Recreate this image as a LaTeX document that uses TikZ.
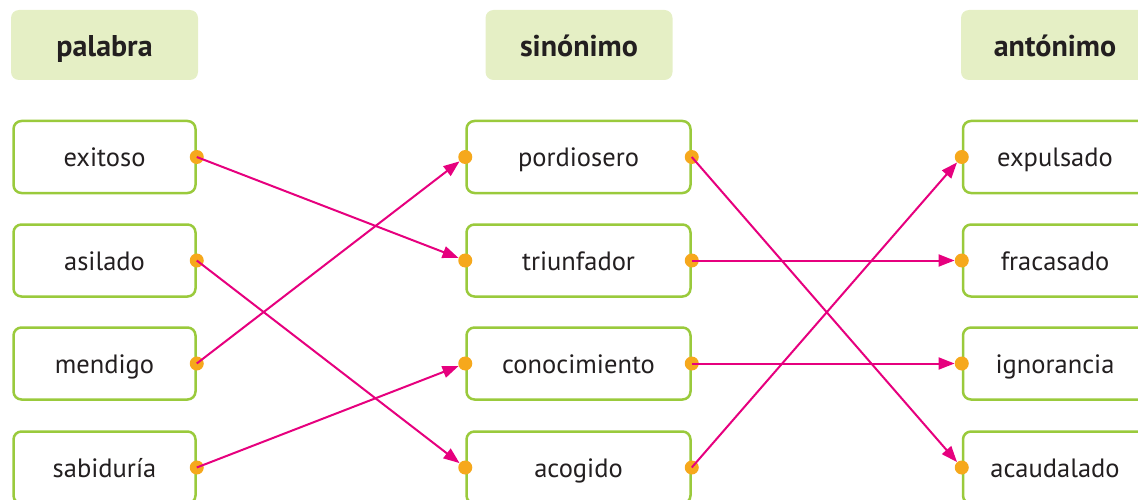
\documentclass[tikz,border=0pt]{standalone}
\usepackage{fontspec}
\setmainfont{PT Sans}
\usetikzlibrary{arrows.meta}
\definecolor{hdrfill}{HTML}{E5EFC5}
\definecolor{boxgreen}{HTML}{9ACA3C}
\definecolor{dotorange}{HTML}{F6A81C}
\definecolor{magen}{HTML}{E6007E}
\definecolor{txt}{HTML}{231F20}
\begin{document}
\begin{tikzpicture}[x=1pt,y=-1pt,
  hdr/.style={fill=hdrfill, rounded corners=8pt, minimum width=187pt, minimum height=70pt, inner sep=0pt, text height=24pt, text depth=0pt, font=\fontsize{30}{34}\selectfont\bfseries, text=txt},
  wbox/.style={draw=boxgreen, line width=2.5pt, fill=white, rounded corners=8pt, minimum height=72pt, inner sep=0pt, text height=20pt, text depth=0pt, font=\fontsize{26.5}{30}\selectfont, text=txt},
  dot/.style={circle, fill=dotorange, minimum size=14pt, inner sep=0pt},
  link/.style={draw=magen, line width=2pt, -{Triangle[length=16pt,width=12pt]}}
]
\useasboundingbox (0,0) rectangle (1138,500);
\clip (0,0) rectangle (1138,500);
% headers
\node[hdr] (h1) at (104.5,45) {palabra};
\node[hdr] (h2) at (579,45) {sinónimo};
\node[hdr, minimum width=188pt] (h3) at (1055,45) {antónimo};
% column 1
\foreach \n/\t/\y in {a1/exitoso/157, a2/asilado/260.5, a3/mendigo/363.5, a4/sabiduría/467.5}{
  \node[wbox, minimum width=182pt] (\n) at (104.5,\y) {\t};
  \node[dot] (\n r) at (\n.east) {};
}
% column 2
\foreach \n/\t/\y in {b1/pordiosero/157, b2/triunfador/260.5, b3/conocimiento/363.5, b4/acogido/467.5}{
  \node[wbox, minimum width=224pt] (\n) at (578.5,\y) {\t};
  \node[dot] (\n l) at (\n.west) {};
  \node[dot] (\n r) at (\n.east) {};
}
% column 3
\foreach \n/\t/\y in {c1/expulsado/157, c2/fracasado/260.5, c3/ignorancia/363.5, c4/acaudalado/467.5}{
  \node[wbox, minimum width=184pt] (\n) at (1055,\y) {\t};
  \node[dot] (\n l) at (\n.west) {};
}
% links
\draw[link] (a1r.center) -- (b2l);
\draw[link] (a2r.center) -- (b4l);
\draw[link] (a3r.center) -- (b1l);
\draw[link] (a4r.center) -- (b3l);
\draw[link] (b1r.center) -- (c4l);
\draw[link] (b2r.center) -- (c2l);
\draw[link] (b3r.center) -- (c3l);
\draw[link] (b4r.center) -- (c1l);
\end{tikzpicture}
\end{document}
